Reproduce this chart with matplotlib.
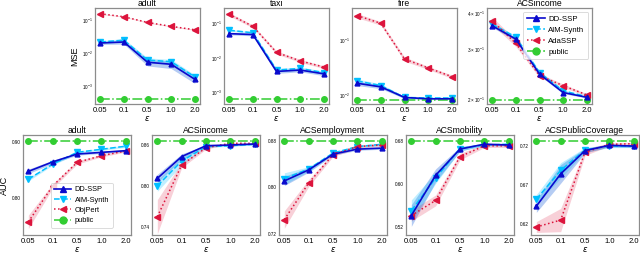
import numpy as np
import matplotlib
matplotlib.use('Agg')
import matplotlib.pyplot as plt
from matplotlib.ticker import FormatStrFormatter

plt.rcParams['font.family'] = ['Liberation Sans', 'DejaVu Sans']
plt.rcParams['mathtext.fontset'] = 'dejavusans'

eps_labels = ['0.05', '0.1', '0.5', '1.0', '2.0']

# ---------------- top row: MSE (log scale) ----------------
mse_titles = ['adult', 'taxi', 'fire', 'ACSincome']

mse_adult_dd = [0.0205, 0.022, 0.0053, 0.0046, 0.0016]
mse_adult_dd_err = [0.002, 0.003, 0.0012, 0.0012, 0.0004]
mse_adult_aim = [0.022, 0.025, 0.0062, 0.0055, 0.0019]
mse_adult_aim_err = [0.002, 0.003, 0.001, 0.001, 0.0003]
mse_adult_ada = [0.16, 0.13, 0.087, 0.066, 0.052]
mse_adult_ada_err = [0.005, 0.004, 0.003, 0.002, 0.002]
mse_adult_pub = [0.0004] * 5

mse_taxi_dd = [0.051, 0.048, 0.0041, 0.0045, 0.0035]
mse_taxi_dd_err = [0.004, 0.004, 0.0005, 0.0005, 0.0004]
mse_taxi_aim = [0.064, 0.054, 0.0045, 0.005, 0.0038]
mse_taxi_aim_err = [0.004, 0.004, 0.0005, 0.0005, 0.0004]
mse_taxi_ada = [0.186, 0.083, 0.0146, 0.0083, 0.0055]
mse_taxi_ada_err = [0.02, 0.008, 0.0015, 0.0008, 0.0005]
mse_taxi_pub = [0.00065] * 5

mse_fire_dd = [0.0163, 0.014, 0.0090, 0.0085, 0.0085]
mse_fire_dd_err = [0.0015, 0.001, 0.0004, 0.0003, 0.0003]
mse_fire_aim = [0.018, 0.0148, 0.009, 0.0088, 0.0088]
mse_fire_aim_err = [0.0015, 0.001, 0.0004, 0.0003, 0.0003]
mse_fire_ada = [0.277, 0.20, 0.045, 0.031, 0.0215]
mse_fire_ada_err = [0.025, 0.015, 0.004, 0.002, 0.0015]
mse_fire_pub = [0.0081] * 5

mse_acs_dd = [0.362, 0.325, 0.245, 0.211, 0.203]
mse_acs_dd_err = [0.005, 0.004, 0.003, 0.002, 0.001]
mse_acs_aim = [0.367, 0.330, 0.248, 0.214, 0.204]
mse_acs_aim_err = [0.005, 0.004, 0.003, 0.002, 0.001]
mse_acs_ada = [0.377, 0.314, 0.242, 0.223, 0.207]
mse_acs_ada_err = [0.012, 0.008, 0.004, 0.003, 0.002]
mse_acs_pub = [0.1986] * 5

# ---------------- bottom row: AUC ----------------
auc_titles = ['adult', 'ACSincome', 'ACSemployment', 'ACSmobility', 'ACSPublicCoverage']

auc_adult_dd = [0.848, 0.865, 0.879, 0.882, 0.885]
auc_adult_dd_err = [0.004, 0.003, 0.002, 0.002, 0.002]
auc_adult_aim = [0.834, 0.861, 0.882, 0.8875, 0.893]
auc_adult_aim_err = [0.003, 0.002, 0.002, 0.002, 0.002]
auc_adult_obj = [0.758, 0.822, 0.864, 0.876, 0.8845]
auc_adult_obj_err = [0.012, 0.004, 0.003, 0.002, 0.002]
auc_adult_pub = [0.902] * 5

auc_inc_dd = [0.811, 0.843, 0.859, 0.860, 0.8615]
auc_inc_dd_err = [0.006, 0.004, 0.001, 0.001, 0.001]
auc_inc_aim = [0.800, 0.8365, 0.8575, 0.859, 0.861]
auc_inc_aim_err = [0.008, 0.006, 0.001, 0.001, 0.001]
auc_inc_obj = [0.7547, 0.8306, 0.856, 0.8625, 0.8625]
auc_inc_obj_err = [0.025, 0.004, 0.002, 0.001, 0.001]
auc_inc_pub = [0.866] * 5

auc_emp_dd = [0.811, 0.830, 0.857, 0.8657, 0.8674]
auc_emp_dd_err = [0.008, 0.004, 0.002, 0.002, 0.002]
auc_emp_aim = [0.815, 0.8314, 0.8589, 0.870, 0.874]
auc_emp_aim_err = [0.010, 0.004, 0.002, 0.002, 0.002]
auc_emp_obj = [0.7446, 0.8074, 0.856, 0.870, 0.873]
auc_emp_obj_err = [0.015, 0.006, 0.003, 0.003, 0.002]
auc_emp_pub = [0.880] * 5

auc_mob_dd = [0.542, 0.6165, 0.665, 0.674, 0.6725]
auc_mob_dd_err = [0.020, 0.012, 0.004, 0.002, 0.002]
auc_mob_aim = [0.551, 0.6115, 0.666, 0.6725, 0.674]
auc_mob_aim_err = [0.020, 0.010, 0.004, 0.002, 0.002]
auc_mob_obj = [0.542, 0.570, 0.651, 0.671, 0.671]
auc_mob_obj_err = [0.010, 0.010, 0.006, 0.003, 0.003]
auc_mob_pub = [0.680] * 5

auc_pub_dd = [0.6424, 0.6841, 0.7142, 0.7209, 0.720]
auc_pub_dd_err = [0.008, 0.012, 0.003, 0.002, 0.002]
auc_pub_aim = [0.6514, 0.6886, 0.715, 0.720, 0.720]
auc_pub_aim_err = [0.006, 0.010, 0.003, 0.002, 0.002]
auc_pub_obj = [0.6155, 0.6245, 0.712, 0.7222, 0.7231]
auc_pub_obj_err = [0.007, 0.015, 0.004, 0.002, 0.002]
auc_pub_pub = [0.7263] * 5

auc_yticks = [[0.80, 0.90], [0.74, 0.80, 0.86], [0.72, 0.80, 0.88],
              [0.52, 0.60, 0.68], [0.62, 0.67, 0.72]]

# ---------------- style ----------------
C_DD = '#0a0acd'
C_AIM = '#00bfff'
C_RED = '#dc143c'
C_PUB = '#32cd32'
SPINE = '#8c8c8c'

W, H = 640, 254
fig = plt.figure(figsize=(W / 100, H / 100), dpi=100)


def px_axes(left, top, right, bottom):
    return fig.add_axes([left / W, 1 - bottom / H, (right - left) / W, (bottom - top) / H])


def draw(ax, dd, dde, aim, aime, red, rede, pub, red_label):
    x = np.arange(len(eps_labels))
    dd, dde, aim, aime, red, rede = map(np.asarray, (dd, dde, aim, aime, red, rede))
    ax.fill_between(x, dd - dde, dd + dde, color='#5b8fe6', alpha=0.45, lw=0)
    ax.fill_between(x, aim - aime, aim + aime, color=C_AIM, alpha=0.25, lw=0)
    ax.fill_between(x, red - rede, red + rede, color=C_RED, alpha=0.2, lw=0)
    ax.plot(x, aim, color=C_AIM, ls='--', marker='v', ms=4, lw=1.1, label='AIM-Synth', zorder=3)
    ax.plot(x, dd, color=C_DD, ls='-', marker='^', ms=3.5, lw=1.2, label='DD-SSP', zorder=4)
    ax.plot(x, red, color=C_RED, ls=':', marker='<', ms=4, lw=1.1, label=red_label, zorder=3)
    ax.plot(x, pub, color=C_PUB, ls='-.', marker='o', ms=4, lw=1.1, label='public', zorder=3)
    ax.set_xticks(x)
    ax.set_xticklabels(eps_labels)
    ax.set_xlim(-0.22, 4.22)
    ax.set_xlabel(r'$\varepsilon$', fontsize=6, labelpad=0)
    ax.tick_params(axis='x', labelsize=5.5, length=0, pad=2)
    ax.tick_params(axis='y', labelsize=3.3, length=0, pad=1.5)
    ax.tick_params(axis='y', which='minor', labelsize=3.3, length=0, pad=1.5)
    for s in ax.spines.values():
        s.set_color(SPINE)
        s.set_linewidth(0.9)


def style_legend(ax, labels_order, fs, **kw):
    h, l = ax.get_legend_handles_labels()
    d = dict(zip(l, h))
    leg = ax.legend([d[k] for k in labels_order], labels_order, fontsize=fs,
                    handlelength=2.3, borderpad=0.45, labelspacing=0.45,
                    handletextpad=0.5, borderaxespad=0.3, frameon=True,
                    fancybox=True, **kw)
    leg.get_frame().set_edgecolor('#cccccc')
    leg.get_frame().set_linewidth(0.6)
    for hd in leg.legend_handles:
        hd.set_markersize(5)


# top row
top_lefts = [95, 224, 352, 487]
top_data = [
    (mse_adult_dd, mse_adult_dd_err, mse_adult_aim, mse_adult_aim_err, mse_adult_ada, mse_adult_ada_err, mse_adult_pub),
    (mse_taxi_dd, mse_taxi_dd_err, mse_taxi_aim, mse_taxi_aim_err, mse_taxi_ada, mse_taxi_ada_err, mse_taxi_pub),
    (mse_fire_dd, mse_fire_dd_err, mse_fire_aim, mse_fire_aim_err, mse_fire_ada, mse_fire_ada_err, mse_fire_pub),
    (mse_acs_dd, mse_acs_dd_err, mse_acs_aim, mse_acs_aim_err, mse_acs_ada, mse_acs_ada_err, mse_acs_pub),
]
top_ylims = [(10 ** -3.55, 10 ** -0.62), (10 ** -3.33, 10 ** -0.55),
             (10 ** -2.165, 10 ** -0.42), (0.1923, 0.418)]
for i in range(4):
    ax = px_axes(top_lefts[i], 8, top_lefts[i] + 105, 104)
    ax.set_yscale('log')
    draw(ax, *top_data[i], red_label='AdaSSP')
    ax.set_ylim(*top_ylims[i])
    ax.set_title(mse_titles[i], fontsize=6.2, pad=1.5)
    if i == 0:
        ax.set_ylabel('MSE', fontsize=6.5, labelpad=2)
    if i == 3:
        style_legend(ax, ['DD-SSP', 'AIM-Synth', 'AdaSSP', 'public'], 5.6,
                     loc='upper right', bbox_to_anchor=(0.985, 0.985))

# bottom row
bot_lefts = [23, 152, 279, 406, 531]
bot_data = [
    (auc_adult_dd, auc_adult_dd_err, auc_adult_aim, auc_adult_aim_err, auc_adult_obj, auc_adult_obj_err, auc_adult_pub),
    (auc_inc_dd, auc_inc_dd_err, auc_inc_aim, auc_inc_aim_err, auc_inc_obj, auc_inc_obj_err, auc_inc_pub),
    (auc_emp_dd, auc_emp_dd_err, auc_emp_aim, auc_emp_aim_err, auc_emp_obj, auc_emp_obj_err, auc_emp_pub),
    (auc_mob_dd, auc_mob_dd_err, auc_mob_aim, auc_mob_aim_err, auc_mob_obj, auc_mob_obj_err, auc_mob_pub),
    (auc_pub_dd, auc_pub_dd_err, auc_pub_aim, auc_pub_aim_err, auc_pub_obj, auc_pub_obj_err, auc_pub_pub),
]
bot_ylims = [(0.7345, 0.913), (0.7278, 0.8747), (0.718, 0.890), (0.506, 0.691), (0.6052, 0.7343)]
for i in range(5):
    ax = px_axes(bot_lefts[i], 135, bot_lefts[i] + 108, 235)
    draw(ax, *bot_data[i], red_label='ObjPert')
    ax.set_ylim(*bot_ylims[i])
    ax.set_yticks(auc_yticks[i])
    ax.yaxis.set_major_formatter(FormatStrFormatter('%.2f'))
    ax.set_title(auc_titles[i], fontsize=6.2, pad=1.5)
    if i == 0:
        ax.set_ylabel('AUC', fontsize=6.5, labelpad=2)
        style_legend(ax, ['DD-SSP', 'AIM-Synth', 'ObjPert', 'public'], 5.3,
                     loc='lower right', bbox_to_anchor=(0.85, 0.05))

fig.savefig('out.png', dpi=100)
